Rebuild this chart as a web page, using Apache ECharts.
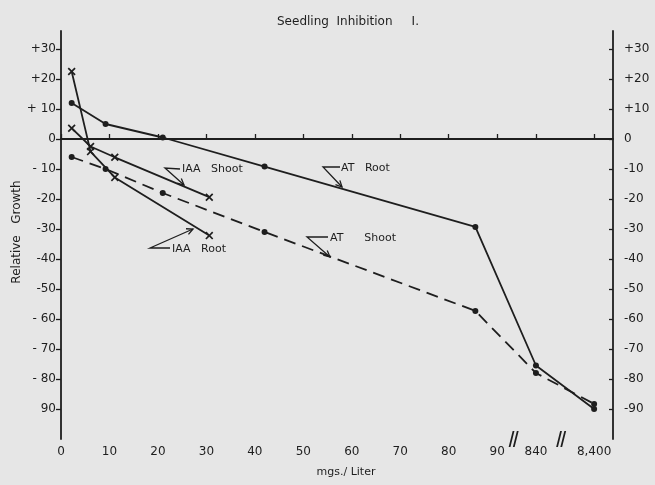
<!DOCTYPE html>
<html><head><meta charset="utf-8">
<script src="https://cdn.jsdelivr.net/npm/echarts@6/dist/echarts.min.js"></script>
<style>html,body{margin:0;padding:0;background:#e6e6e6}#c{width:655px;height:485px}</style>
</head><body><div id="c"></div>
<script>
// ---- data (mgs./Liter vs relative growth) ----
const atConc   = [2.2, 9.2, 21, 42, 85.5, 840, 8400];
const atRoot   = [12, 5, 0.5, -9.2, -29.3, -75.5, -90];
const atShoot  = [-6, -10, -18, -31, -57.3, -78, -88.3];
const iaaConc  = [2.2, 6.1, 11.1, 30.6];
const iaaShoot = [3.6, -2.5, -6.1, -19.4];
const iaaRoot  = [22.5, -4.2, -12.8, -32.2];

const xTickValues = [0, 10, 20, 30, 40, 50, 60, 70, 80, 90, 840, 8400];
const xTickLabels = ['0', '10', '20', '30', '40', '50', '60', '70', '80', '90', '840', '8,400'];
const yTickValues = [30, 20, 10, 0, -10, -20, -30, -40, -50, -60, -70, -80, -90];
const yLeftLabels = ['+30', '+20', '+ 10', '0', '- 10', '-20', '-30', '-40', '-50', '- 60', '- 70', '- 80', '90'];
const yRightLabels = ['+30', '+20', '+10', '0', '-10', '-20', '-30', '-40', '-50', '-60', '-70', '-80', '-90'];

// broken x axis: linear up to 90, then each break value gets its own slot on the axis
const breakSlots = [{ value: 840, slot: 98 }, { value: 8400, slot: 110 }];
const breakMarkSlots = [93.4, 103.2];
function axisPos(c) {
  if (c <= 90) return c;
  return breakSlots.find(s => s.value === c).slot;
}
const xTickPos = xTickValues.map(axisPos);

const INK = '#1e1e1e';
const FONT = 'DejaVu Sans';
const chart = echarts.init(document.getElementById('c'), null, { renderer: 'canvas' });

const xMark = 'path://M0,1.5 L1.5,0 L5,3.5 L8.5,0 L10,1.5 L6.5,5 L10,8.5 L8.5,10 L5,6.5 L1.5,10 L0,8.5 L3.5,5 Z';
const slashMark = 'path://M1,16 L5,0 L6.8,0 L2.8,16 Z M5.2,16 L9.2,0 L11,0 L7,16 Z';

function pairs(xs, ys) { return xs.map((c, i) => [axisPos(c), ys[i]]); }

function callout(text, vertex, lineEnd, textX, tip) {
  const dx = tip[0] - vertex[0], dy = tip[1] - vertex[1];
  const len = Math.hypot(dx, dy), ux = dx / len, uy = dy / len;
  const a = 0.45, L = 7;
  const h1 = [tip[0] - L * (ux * Math.cos(a) - uy * Math.sin(a)), tip[1] - L * (uy * Math.cos(a) + ux * Math.sin(a))];
  const h2 = [tip[0] - L * (ux * Math.cos(-a) - uy * Math.sin(-a)), tip[1] - L * (uy * Math.cos(-a) + ux * Math.sin(-a))];
  return [
    { type: 'polyline', shape: { points: [lineEnd, vertex, tip] }, style: { stroke: INK, lineWidth: 1.3, fill: null } },
    { type: 'polyline', shape: { points: [h1, tip, h2] }, style: { stroke: INK, lineWidth: 1.3, fill: null } },
    { type: 'text', x: textX, y: vertex[1] + 1, style: { text: text, fontSize: 11, fontFamily: FONT, fill: INK, verticalAlign: 'middle', align: 'left' } }
  ];
}

const graphics = [].concat(
  callout('IAA   Shoot', [165, 168], [180, 169], 182, [184, 185]),
  callout('IAA   Root', [150, 248], [170, 248], 172, [193, 229]),
  callout('AT   Root', [323, 167], [340, 167], 341, [342, 187]),
  callout('AT      Shoot', [307, 237], [328, 237], 330, [330, 257]),
  [
    { type: 'text', x: 17, y: 232, rotation: Math.PI / 2, style: { text: 'Relative   Growth', fontSize: 12, fontFamily: FONT, fill: INK, align: 'center', verticalAlign: 'middle' } },
    { type: 'text', x: 346, y: 472, style: { text: 'mgs./ Liter', fontSize: 11, fontFamily: FONT, fill: INK, align: 'center', verticalAlign: 'middle' } }
  ]
);

const lineBase = { type: 'line', symbolSize: 6, showSymbol: true, silent: true, animation: false, z: 3 };

chart.setOption({
  backgroundColor: '#e6e6e6',
  animation: false,
  title: {
    text: 'Seedling  Inhibition     I.',
    left: 272, top: 11,
    textStyle: { fontFamily: FONT, fontSize: 12, fontWeight: 'normal', color: INK }
  },
  grid: { left: 61, top: 31, width: 552, height: 408 },
  xAxis: {
    type: 'value', min: 0, max: 113.9,
    axisLine: { show: true, lineStyle: { color: INK, width: 1.8 } },
    axisTick: { show: true, inside: true, length: 5, customValues: xTickPos, lineStyle: { color: INK, width: 1.3 } },
    axisLabel: {
      customValues: xTickPos, margin: 7, color: INK, fontFamily: FONT, fontSize: 12,
      formatter: v => xTickLabels[xTickPos.indexOf(v)] ?? ''
    },
    splitLine: { show: false }
  },
  yAxis: [
    {
      type: 'value', min: -100, max: 36, position: 'left',
      axisLine: { show: true, onZero: false, lineStyle: { color: INK, width: 1.8 } },
      axisTick: { show: true, length: 5, customValues: yTickValues, lineStyle: { color: INK, width: 1.3 } },
      axisLabel: {
        customValues: yTickValues, margin: 5, color: INK, fontFamily: FONT, fontSize: 12,
        formatter: v => yLeftLabels[yTickValues.indexOf(v)] ?? ''
      },
      splitLine: { show: false }
    },
    {
      type: 'value', min: -100, max: 36, position: 'right',
      axisLine: { show: true, onZero: false, lineStyle: { color: INK, width: 1.8 } },
      axisTick: { show: true, inside: true, length: 4, customValues: yTickValues, lineStyle: { color: INK, width: 1.3 } },
      axisLabel: {
        customValues: yTickValues, margin: 11, color: INK, fontFamily: FONT, fontSize: 12,
        formatter: v => yRightLabels[yTickValues.indexOf(v)] ?? ''
      },
      splitLine: { show: false }
    }
  ],
  series: [
    Object.assign({}, lineBase, {
      name: 'AT Root', data: pairs(atConc, atRoot), symbol: 'circle',
      itemStyle: { color: INK }, lineStyle: { color: INK, width: 1.8 },
      markLine: {
        silent: true, symbol: 'none', label: { show: false },
        lineStyle: { color: INK, width: 1.8, type: 'solid' },
        data: [{ yAxis: 0 }]
      },
      markPoint: {
        silent: true, symbol: slashMark, symbolSize: [10, 16], label: { show: false },
        itemStyle: { color: INK },
        data: breakMarkSlots.map(s => ({ coord: [s, -100] }))
      }
    }),
    Object.assign({}, lineBase, {
      name: 'AT Shoot', data: pairs(atConc, atShoot), symbol: 'circle',
      itemStyle: { color: INK }, lineStyle: { color: INK, width: 1.8, type: [12, 7] }
    }),
    Object.assign({}, lineBase, {
      name: 'IAA Shoot', data: pairs(iaaConc, iaaShoot), symbol: xMark, symbolSize: 8,
      itemStyle: { color: INK }, lineStyle: { color: INK, width: 1.8 }
    }),
    Object.assign({}, lineBase, {
      name: 'IAA Root', data: pairs(iaaConc, iaaRoot), symbol: xMark, symbolSize: 8,
      itemStyle: { color: INK }, lineStyle: { color: INK, width: 1.8 }
    })
  ],
  graphic: graphics
});
</script>
</body></html>
